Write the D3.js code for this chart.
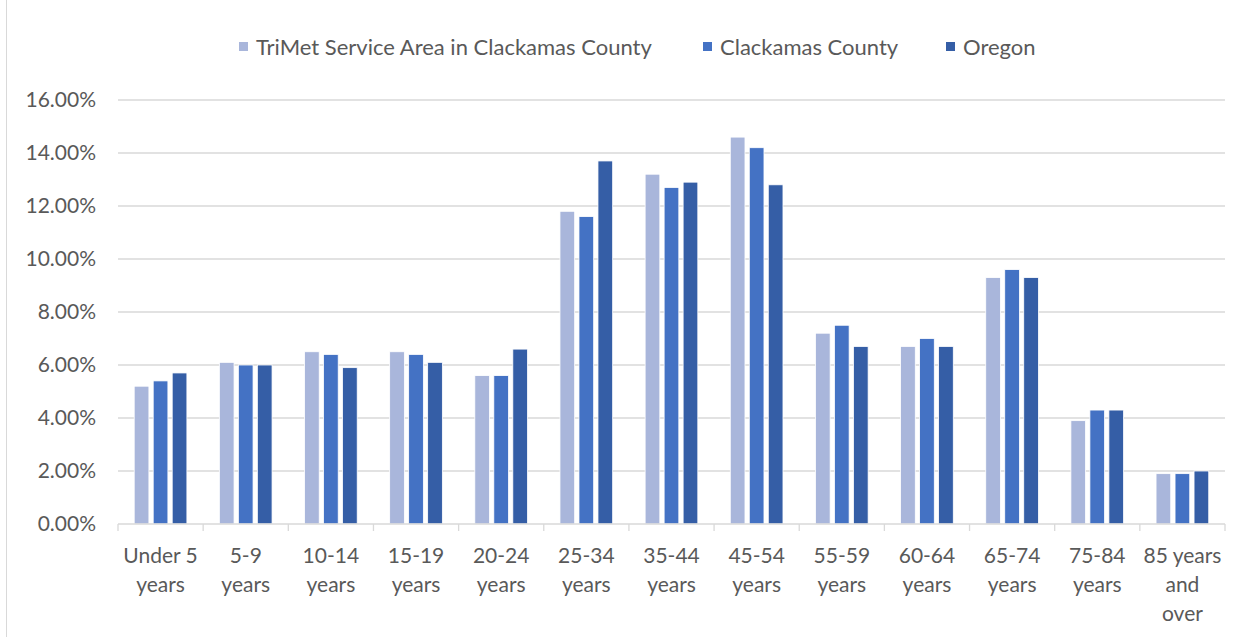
<!DOCTYPE html>
<html>
<head>
<meta charset="utf-8">
<script src="https://cdn.jsdelivr.net/npm/d3@7"></script>
<style>
  body { margin: 0; background: #fff; }
  text { font-family: Lato, "Open Sans", sans-serif; fill: #595959; }
</style>
</head>
<body>
<div id="chart"></div>
<script>
// age groups along the x axis
const categories = ["Under 5 years", "5-9 years", "10-14 years", "15-19 years", "20-24 years",
  "25-34 years", "35-44 years", "45-54 years", "55-59 years", "60-64 years",
  "65-74 years", "75-84 years", "85 years and over"];
const labelLines = [["Under 5", "years"], ["5-9", "years"], ["10-14", "years"], ["15-19", "years"],
  ["20-24", "years"], ["25-34", "years"], ["35-44", "years"], ["45-54", "years"], ["55-59", "years"],
  ["60-64", "years"], ["65-74", "years"], ["75-84", "years"], ["85 years", "and", "over"]];

const seriesNames = ["TriMet Service Area in Clackamas County", "Clackamas County", "Oregon"];
const trimet    = [5.2, 6.1, 6.5, 6.5, 5.6, 11.8, 13.2, 14.6, 7.2, 6.7, 9.3, 3.9, 1.9];
const clackamas = [5.4, 6.0, 6.4, 6.4, 5.6, 11.6, 12.7, 14.2, 7.5, 7.0, 9.6, 4.3, 1.9];
const oregon    = [5.7, 6.0, 5.9, 6.1, 6.6, 13.7, 12.9, 12.8, 6.7, 6.7, 9.3, 4.3, 2.0];
const yTicks = [0, 2, 4, 6, 8, 10, 12, 14, 16];

const colors = ["#a9b6db", "#4472c4", "#355ea6"];
const seriesValues = [trimet, clackamas, oregon];

const width = 1250, height = 637;
const svg = d3.select("#chart").append("svg")
  .attr("width", width).attr("height", height);

// chart frame
svg.append("rect")
  .attr("x", 6.5).attr("y", -1).attr("width", width - 5).attr("height", height + 2)
  .attr("fill", "none").attr("stroke", "#d9d9d9");

const plotL = 118, plotR = 1225, plotT = 100, plotB = 524;

const x0 = d3.scaleBand().domain(categories).range([plotL, plotR]);
const x1 = d3.scaleBand().domain(seriesNames).range([16.2, 68.9]).paddingInner(0.226);
const y = d3.scaleLinear().domain([0, 16]).range([plotB, plotT]);

// gridlines
svg.append("g").selectAll("line").data(yTicks.slice(1)).join("line")
  .attr("x1", plotL).attr("x2", plotR)
  .attr("y1", d => y(d)).attr("y2", d => y(d))
  .attr("stroke", "#d9d9d9").attr("stroke-width", 1.3);

// y labels
svg.append("g").selectAll("text").data(yTicks).join("text")
  .attr("x", 96).attr("y", d => y(d))
  .attr("dy", "0.35em")
  .attr("text-anchor", "end")
  .style("font-size", "21px")
  .text(d => d.toFixed(2) + "%");

// bars
const groups = svg.append("g").selectAll("g").data(categories).join("g")
  .attr("transform", d => `translate(${x0(d)},0)`);

groups.selectAll("rect")
  .data((c, i) => seriesNames.map((s, j) => ({ s, v: seriesValues[j][i], j })))
  .join("rect")
  .attr("x", d => x1(d.s))
  .attr("width", x1.bandwidth())
  .attr("y", d => y(d.v))
  .attr("height", d => y(0) - y(d.v))
  .attr("fill", d => colors[d.j])
  .attr("stroke", "#fff").attr("stroke-width", 0.8);

// x axis line and ticks
svg.append("line")
  .attr("x1", plotL).attr("x2", plotR).attr("y1", plotB).attr("y2", plotB)
  .attr("stroke", "#d9d9d9").attr("stroke-width", 1.3);
svg.append("g").selectAll("line").data(categories.concat([null])).join("line")
  .attr("x1", (d, i) => plotL + i * x0.step()).attr("x2", (d, i) => plotL + i * x0.step())
  .attr("y1", plotB).attr("y2", plotB + 7)
  .attr("stroke", "#d9d9d9").attr("stroke-width", 1.3);

// x labels
const xl = svg.append("g").selectAll("text").data(categories).join("text")
  .attr("text-anchor", "middle")
  .style("font-size", "21px")
  .attr("transform", d => `translate(${x0(d) + x0.bandwidth() / 2},563)`);
xl.selectAll("tspan").data((d, i) => labelLines[i]).join("tspan")
  .attr("x", 0).attr("y", (d, i) => i * 29)
  .text(d => d);

// legend
const legendX = [239, 703, 946];
const lg = svg.append("g").selectAll("g").data(seriesNames).join("g")
  .attr("transform", (d, i) => `translate(${legendX[i]},42)`);
lg.append("rect").attr("width", 9).attr("height", 9).attr("fill", (d, i) => colors[i]);
lg.append("text").attr("x", 17).attr("y", 5).attr("dy", "0.35em")
  .style("font-size", "22px").text(d => d);
</script>
</body>
</html>
